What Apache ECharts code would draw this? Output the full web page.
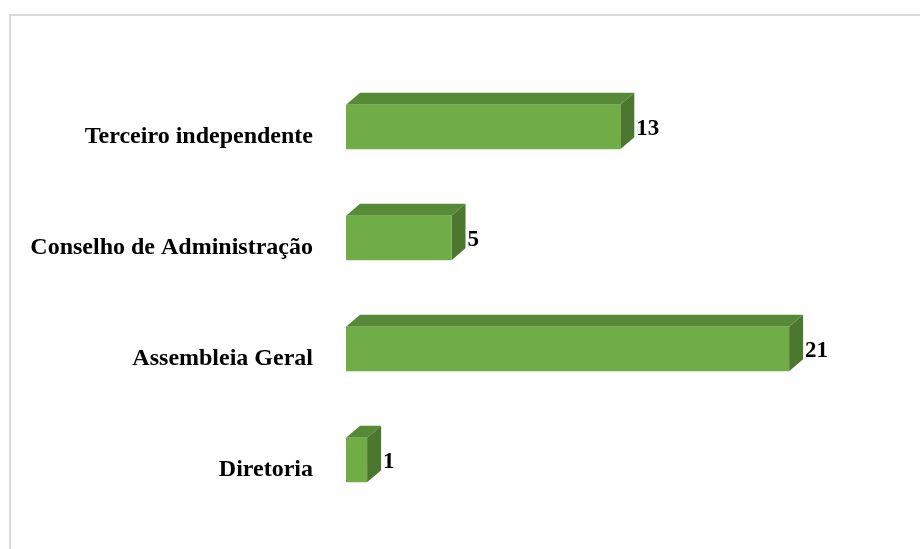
<!DOCTYPE html>
<html>
<head>
<meta charset="utf-8">
<script src="https://cdn.jsdelivr.net/npm/echarts@6/dist/echarts.min.js"></script>
<style>
html, body { margin: 0; padding: 0; background: #fff; }
#chart { width: 920px; height: 549px; }
</style>
</head>
<body>
<div id="chart"></div>
<script>
// categories bottom to top, as the y axis lists them
var categories = ['Diretoria', 'Assembleia Geral', 'Conselho de Administração', 'Terceiro independente'];
var values = [1, 21, 5, 13];

var FONT = '"Liberation Serif", "Times New Roman", serif';
var DX = 14, DY = 12;   // depth of the 3d bars

var myChart = echarts.init(document.getElementById('chart'));

myChart.setOption({
    animation: false,
    graphic: [{
        type: 'rect',
        shape: { x: 10, y: 15, width: 940, height: 580 },
        style: { fill: 'none', stroke: '#d9d9d9', lineWidth: 2 },
        silent: true
    }],
    grid: {
        left: 346,
        top: 71.5,
        height: 444,
        width: 527.5
    },
    xAxis: {
        type: 'value',
        min: 0,
        max: 25,
        show: false
    },
    yAxis: {
        type: 'category',
        data: categories,
        axisLine: { show: false },
        axisTick: { show: false },
        splitLine: { show: false },
        axisLabel: {
            margin: 33,
            fontFamily: FONT,
            fontWeight: 'bold',
            fontSize: 24,
            color: '#000',
            verticalAlign: 'top',
            lineHeight: 20
        }
    },
    series: [{
        type: 'custom',
        data: values.map(function (v, i) { return [v, i]; }),
        encode: { x: 0, y: 1 },
        renderItem: function (params, api) {
            var v = api.value(0);
            var c = api.value(1);
            var end = api.coord([v, c]);
            var start = api.coord([0, c]);
            var h = api.size([0, 1])[1] * 0.4;
            var x0 = start[0], x1 = end[0];
            var y0 = end[1] - h / 2, y1 = end[1] + h / 2;
            return {
                type: 'group',
                children: [
                    {
                        type: 'polygon',
                        shape: { points: [[x0, y0], [x1, y0], [x1 + DX, y0 - DY], [x0 + DX, y0 - DY]] },
                        style: { fill: '#568a36' }
                    },
                    {
                        type: 'polygon',
                        shape: { points: [[x1, y0], [x1 + DX, y0 - DY], [x1 + DX, y1 - DY], [x1, y1]] },
                        style: { fill: '#4b772e' }
                    },
                    {
                        type: 'rect',
                        shape: { x: x0, y: y0, width: x1 - x0, height: h },
                        style: { fill: '#70ad47' }
                    },
                    {
                        type: 'text',
                        style: {
                            x: x1 + DX + 2,
                            y: end[1] + 2,
                            text: String(v),
                            fill: '#000',
                            font: 'bold 23px ' + FONT,
                            verticalAlign: 'middle',
                            align: 'left'
                        }
                    }
                ]
            };
        }
    }]
});
</script>
</body>
</html>
